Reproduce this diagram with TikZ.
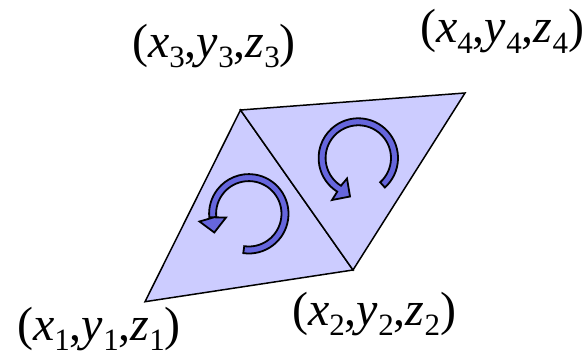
\documentclass[tikz,border=0pt]{standalone}
\usepackage{fontspec}
\setmainfont{Liberation Serif}
\definecolor{facefill}{HTML}{CCCCFF}
\definecolor{turnfill}{HTML}{6666DD}
\usetikzlibrary{calc}
\newcommand{\subdigit}[1]{\raisebox{-10pt}{\fontsize{31}{31}\selectfont #1}}
\newcommand{\vertlabel}[1]{(\textit{x}\subdigit{#1},\textit{y}\subdigit{#1},\textit{z}\subdigit{#1})}
\tikzset{
  facetri/.style={draw=black,fill=facefill,line width=1.5pt,line join=miter},
  turnarrow/.style={draw=black,fill=turnfill,line width=1.8pt,line join=miter},
  vertlab/.style={inner sep=0pt,anchor=base west,font=\fontsize{48}{48}\selectfont},
}
\begin{document}
\begin{tikzpicture}[x=1pt,y=1pt]
\useasboundingbox (0,0) rectangle (586,357);
% mesh vertices
\coordinate (v1) at (145,55.3);
\coordinate (v2) at (353,87);
\coordinate (v3) at (240.5,247);
\coordinate (v4) at (465,264);
% faces
\draw[facetri] (v1)--(v2)--(v3)--cycle;
\draw[facetri] (v2)--(v4)--(v3)--cycle;
% winding arrows
\coordinate (c1) at (248.8,143.2);
\coordinate (c2) at (358.3,199);
\draw[turnarrow] ($(c1)+(-98:39.7)$) arc[start angle=-98,end angle=185,radius=39.7]
  -- (226,139.5) -- (214.3,124.5) -- (199.5,135.5) -- ($(c1)+(185:32.7)$)
  arc[start angle=185,end angle=-98,radius=32.7] -- cycle;
\draw[turnarrow] ($(c2)+(-48:39.7)$) arc[start angle=-48,end angle=238,radius=39.7]
  -- (332,157) -- (350,160.5) -- (347,178.5) -- ($(c2)+(238:32.7)$)
  arc[start angle=238,end angle=-48,radius=32.7] -- cycle;
% vertex labels
\node[vertlab] (lab3) at (132,300) {\vertlabel{3}};
\node[vertlab] (lab4) at (420,314) {\vertlabel{4}};
\node[vertlab] (lab1) at (17,17) {\vertlabel{1}};
\node[vertlab] (lab2) at (292,32) {\vertlabel{2}};
\end{tikzpicture}
\end{document}
